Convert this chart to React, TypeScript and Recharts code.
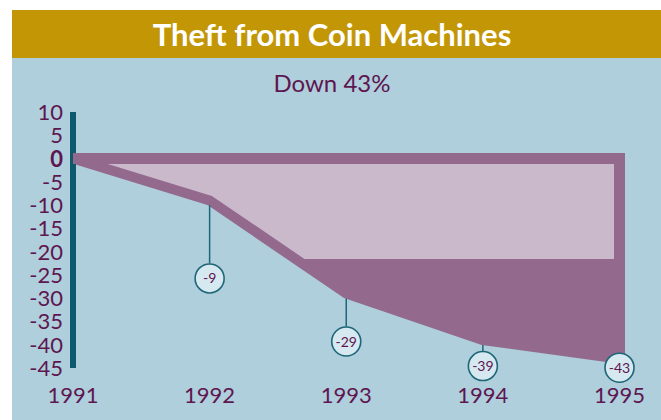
import { AreaChart, Area, XAxis, YAxis, ReferenceLine, LabelList } from "recharts";

const years = ["1991", "1992", "1993", "1994", "1995"];
const change = [0, -9, -29, -39, -43];
const yTicks = [10, 5, 0, -5, -10, -15, -20, -25, -30, -35, -40, -45];

// how far below each point its callout circle sits (px)
const calloutDrop = [0, 78, 48, 26, 9];

const data = years.map((year, i) => ({ year, change: change[i] }));
const last = data[data.length - 1];

const purple = "#93698e";
const pink = "#cab8cb";
const teal = "#0e5a6c";
const textColor = "#5e1650";

const YTick = (props: any) => {
  const { x, y, payload } = props;
  return (
    <text
      x={x}
      y={y}
      dy={8}
      textAnchor="end"
      fill={textColor}
      fontSize={22}
      fontFamily="Lato"
      fontWeight={payload.value === 0 ? 700 : 400}
    >
      {payload.value}
    </text>
  );
};

const Callout = (props: any) => {
  const { index, value } = props;
  const x = props.viewBox ? props.viewBox.x : props.x;
  const y = props.viewBox ? props.viewBox.y : props.y;
  if (!index) return null;
  const cy = y + calloutDrop[index];
  return (
    <g>
      {calloutDrop[index] > 20 && (
        <line x1={x} y1={y + 5} x2={x} y2={cy - 15} stroke="#1f6678" strokeWidth={1.5} />
      )}
      <circle cx={x} cy={cy} r={14.5} fill="#d6e9f0" stroke="#1f6678" strokeWidth={1.6} />
      <text x={x} y={cy} dy={5} textAnchor="middle" fontSize={14} fontFamily="Lato" fill={textColor}>
        {value}
      </text>
    </g>
  );
};

export default function App() {
  return (
    <div
      style={{
        position: "absolute",
        left: 12,
        top: 10,
        width: 649,
        height: 410,
        background: "#aecfdb",
        fontFamily: "Lato",
      }}
    >
      <div
        style={{
          height: 48,
          background: "#c39606",
          color: "#fff",
          fontWeight: 700,
          fontSize: 31,
          lineHeight: "48px",
          textAlign: "center",
          paddingRight: 9,
        }}
      >
        Theft from Coin Machines
      </div>
      <div
        style={{
          position: "absolute",
          top: 58,
          left: 0,
          width: 640,
          textAlign: "center",
          fontSize: 24,
          color: textColor,
        }}
      >
        Down 43%
      </div>
      <div style={{ position: "absolute", top: 48, left: 0 }}>
        <AreaChart
          width={649}
          height={362}
          data={data}
          margin={{ top: 54, right: 41.5, bottom: 0, left: 0 }}
        >
          <defs>
            <linearGradient id="split" x1="0" y1="0" x2="0" y2="1">
              <stop offset="0.5" stopColor={pink} />
              <stop offset="0.5" stopColor={purple} />
            </linearGradient>
          </defs>
          <XAxis
            dataKey="year"
            axisLine={false}
            tickLine={false}
            tickSize={0}
            tickMargin={19}
            height={52}
            tick={{ fill: textColor, fontSize: 22, fontFamily: "Lato" }}
          />
          <YAxis
            type="number"
            domain={[-45, 10]}
            ticks={yTicks}
            interval={0}
            axisLine={false}
            tickLine={false}
            tickSize={0}
            tickMargin={10}
            width={61}
            tick={<YTick />}
          />
          <ReferenceLine x="1991" stroke={teal} strokeWidth={6} />
          <Area
            dataKey="change"
            type="linear"
            stroke={purple}
            strokeWidth={10}
            fill="url(#split)"
            fillOpacity={1}
            dot={false}
            activeDot={false}
            isAnimationActive={false}
          />
          <ReferenceLine
            segment={[
              { x: years[0], y: 0 },
              { x: last.year, y: 0 },
            ]}
            stroke={purple}
            strokeWidth={11}
          />
          <ReferenceLine
            segment={[
              { x: last.year, y: 0 },
              { x: last.year, y: last.change },
            ]}
            stroke={purple}
            strokeWidth={11}
            strokeLinecap="square"
          />
          <Area
            dataKey="change"
            type="linear"
            stroke="none"
            fill="none"
            dot={false}
            activeDot={false}
            isAnimationActive={false}
          >
            <LabelList dataKey="change" content={<Callout />} />
          </Area>
        </AreaChart>
      </div>
    </div>
  );
}
